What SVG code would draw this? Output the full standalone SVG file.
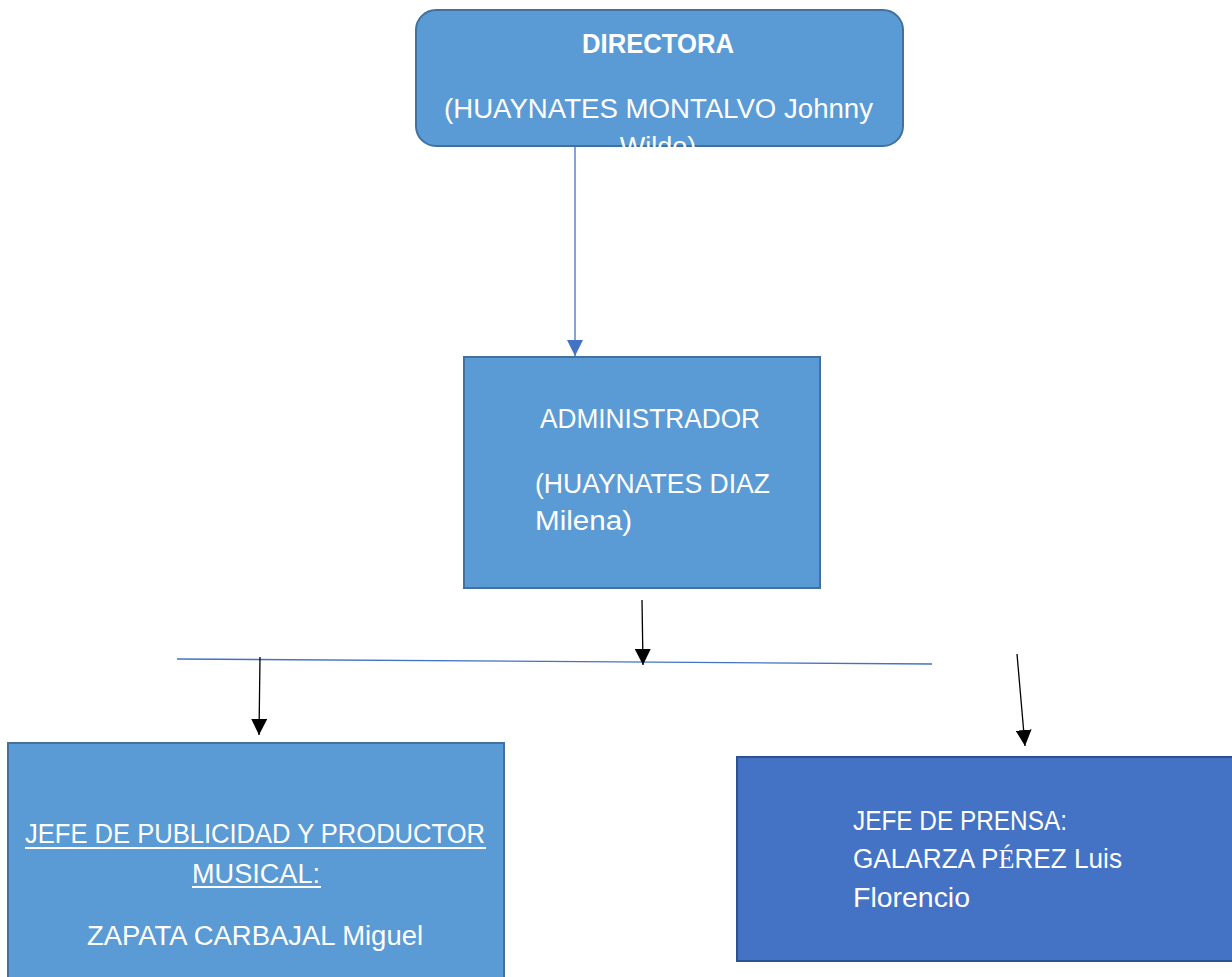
<svg xmlns="http://www.w3.org/2000/svg" width="1232" height="977" viewBox="0 0 1232 977">
<style>
.box{fill:#5B9BD5;stroke:#41719C;stroke-width:2}
.box2{fill:#4472C4;stroke:#2F528F;stroke-width:2}
.t{font-family:"Liberation Sans",Arial,sans-serif;font-size:27px;fill:#FFFFFF}
.b{font-weight:bold}
.blk{stroke:#000000;stroke-width:1.3;fill:none}
.blu{stroke:#4472C4;stroke-width:1.3;fill:none}
</style>
<defs>
<marker id="ab" markerUnits="userSpaceOnUse" markerWidth="16" markerHeight="16" refX="16" refY="8" orient="auto" viewBox="0 0 16 16">
<path d="M0,0 L16,8 L0,16 z" fill="#000000"/>
</marker>
<marker id="au" markerUnits="userSpaceOnUse" markerWidth="16" markerHeight="16" refX="16" refY="8" orient="auto" viewBox="0 0 16 16">
<path d="M0,0 L16,8 L0,16 z" fill="#4472C4"/>
</marker>
<clipPath id="clipTop"><rect x="0" y="0" width="1232" height="150"/></clipPath>
</defs>

<g id="connectors">
<line class="blu" x1="575" y1="147" x2="575" y2="356" marker-end="url(#au)"/>
<line class="blu" x1="177" y1="659" x2="932" y2="664"/>
<line class="blk" x1="642" y1="600" x2="643" y2="665" marker-end="url(#ab)"/>
<line class="blk" x1="260" y1="657" x2="259" y2="735" marker-end="url(#ab)"/>
<line class="blk" x1="1017" y1="654" x2="1025" y2="746" marker-end="url(#ab)"/>
</g>

<g id="directora">
<rect class="box" x="416" y="10" width="487" height="136" rx="20" ry="20"/>
<text class="t b" x="658" y="53" text-anchor="middle" textLength="152" lengthAdjust="spacingAndGlyphs">DIRECTORA</text>
<text class="t" x="444" y="118" textLength="429" lengthAdjust="spacingAndGlyphs">(HUAYNATES MONTALVO Johnny</text>
<text class="t" x="658" y="156" text-anchor="middle" clip-path="url(#clipTop)">Wildo)</text>
</g>

<g id="administrador">
<rect class="box" x="464" y="357" width="356" height="231"/>
<text class="t" x="540" y="428" textLength="220" lengthAdjust="spacingAndGlyphs">ADMINISTRADOR</text>
<text class="t" x="535" y="493" textLength="235" lengthAdjust="spacingAndGlyphs">(HUAYNATES DIAZ</text>
<text class="t" x="535" y="530" textLength="97" lengthAdjust="spacingAndGlyphs">Milena)</text>
</g>

<g id="publicidad">
<rect class="box" x="8" y="743" width="496" height="250"/>
<text class="t" x="25" y="843" textLength="460" lengthAdjust="spacingAndGlyphs">JEFE DE PUBLICIDAD Y PRODUCTOR</text>
<rect x="25" y="847" width="461" height="2" fill="#FFFFFF"/>
<text class="t" x="192" y="883" textLength="128" lengthAdjust="spacingAndGlyphs">MUSICAL:</text>
<rect x="192" y="886" width="129" height="2" fill="#FFFFFF"/>
<text class="t" x="87" y="945" textLength="336" lengthAdjust="spacingAndGlyphs">ZAPATA CARBAJAL Miguel</text>
</g>

<g id="prensa">
<rect class="box2" x="737" y="757" width="520" height="204"/>
<text class="t" x="853" y="830" textLength="214" lengthAdjust="spacingAndGlyphs">JEFE DE PRENSA:</text>
<text class="t" x="853" y="868" textLength="269" lengthAdjust="spacingAndGlyphs">GALARZA P<tspan font-family="Liberation Serif, serif">É</tspan>REZ Luis</text>
<text class="t" x="853" y="907" textLength="117" lengthAdjust="spacingAndGlyphs">Florencio</text>
</g>
</svg>
